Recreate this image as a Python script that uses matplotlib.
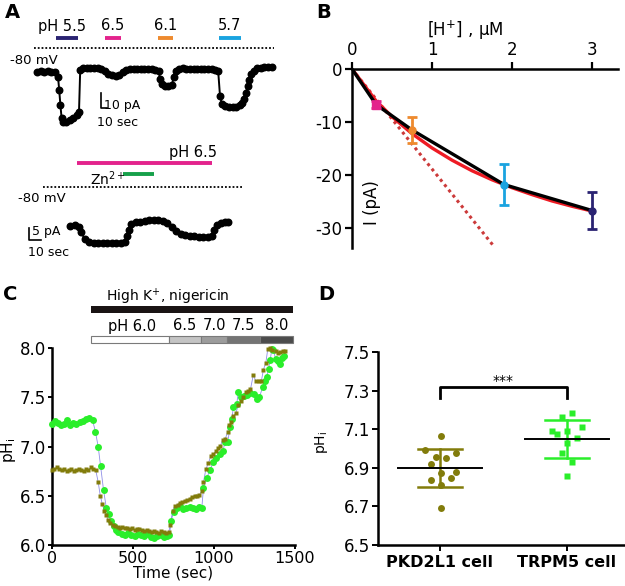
import matplotlib

matplotlib.use("Agg")

import matplotlib.pyplot as plt  # noqa: E402
from matplotlib.patches import Rectangle  # noqa: E402
from matplotlib.transforms import blended_transform_factory  # noqa: E402

plt.rcParams["font.family"] = ["DejaVu Sans"]
plt.rcParams["axes.unicode_minus"] = False
plt.rcParams["mathtext.default"] = "regular"

W, H = 625, 586

# ---- panel A: current traces, (time s, current pA) ----
trace_ph = [
    (0, -1.7), (6, -1.5), (12, -1.8), (18, -1.6), (24, -1.7), (30, -2.3), (35, -5.1), (37, -14),
    (39, -24), (41, -32.7), (44, -35.1), (49, -35.1), (55, -34), (60, -32.9), (66, -30.7), (70, -28.5),
    (72, -0.7), (77, 0.8), (83, 0.7), (89, 0.9), (95, 0.6), (101, 0.5), (107, 0.2), (113, -1.5),
    (119, -3.2), (125, -4.3), (131, -4.6), (137, -3.8), (143, -2.2), (149, -0.9), (155, -0.3), (161, 0.2),
    (167, 0), (173, 0.2), (179, 0), (185, -0.2), (191, -0.3), (197, -0.5), (203, -1.5), (205, -6.5),
    (208, -10.2), (213, -11.3), (219, -11.0), (225, -10.4), (228, -5), (231, -1), (237, 0.2), (243, 0.4),
    (249, 0.2), (255, 0.3), (261, 0), (267, 0.1), (273, -0.1), (279, 0), (285, -0.2), (291, -0.3),
    (297, -0.5), (302, -1.5), (305, -18), (308, -23), (314, -24.8), (320, -25.3), (326, -25.4), (332, -25),
    (338, -24.2), (342, -22.5), (345, -20), (348, -16), (351, -11.5), (354, -7), (357, -3.5), (361, -1.2),
    (367, 0.5), (373, 1), (379, 1.2), (385, 1.1), (391, 1.1),
]
# pH pulses on the top trace: (start s, end s, label, colour)
ph_pulses = [(32, 68, "5.5", "#2a2372"), (113, 140, "6.5", "#e3238c"),
             (202, 227, "6.1", "#ee8a2e"), (303, 340, "5.7", "#1aa3e0")]

trace_zn = [
    (0, 0), (4, 0.3), (8, -0.3), (10, -2.5), (13, -5.5), (17, -6.7), (21, -7.1), (25, -7.2), (29, -7.2),
    (33, -7.1), (37, -7.0), (41, -6.9), (45, -6.9), (49, -6.7), (50.5, -4), (52, -1.5), (54, 1.0),
    (58, 1.6), (62, 1.8), (66, 2.1), (70, 2.3), (74, 2.5), (78, 2.4), (82, 2.2), (86, 1.2), (90, -0.3),
    (94, -2.2), (98, -3.4), (102, -3.9), (106, -4.1), (110, -4.3), (114, -4.4), (118, -4.5), (122, -4.5),
    (125.5, -4.3), (127, -1.7), (130, 0.4), (134, 1.2), (137, 1.5), (140, 1.8),
]
ph65_span = (6, 126)
zn_span = (47, 74)

# ---- panel B: dose response ----
h_conc = [0.30, 0.75, 1.90, 3.00]
i_mean = [-6.7, -11.5, -21.8, -26.7]
i_err = [0.6, 2.4, 3.85, 3.4]
pt_colors = ["#e3238c", "#ee8a2e", "#1aa3e0", "#2a2372"]
pt_markers = ["s", "o", "o", "o"]
fit_x = [0, 0.15, 0.3, 0.5, 0.75, 1.0, 1.25, 1.5, 1.75, 2.0, 2.25, 2.5, 2.75, 3.0]
fit_y = [0, -3.0, -6.0, -9.0, -12.2, -14.9, -17.2, -19.2, -20.9, -22.4, -23.7, -24.9, -25.9, -26.8]
lin_x = [0, 1.76]
lin_y = [0, -33.2]

# ---- panel C: pHi calibration ----
pkd_trace = [
    (0, 6.76), (15, 6.77), (30, 6.79), (45, 6.77), (60, 6.76), (75, 6.77), (90, 6.75), (105, 6.76),
    (120, 6.77), (135, 6.75), (150, 6.76), (165, 6.77), (180, 6.76), (195, 6.75), (210, 6.77), (225, 6.76),
    (240, 6.79), (255, 6.77), (270, 6.76), (285, 6.64), (298, 6.5), (310, 6.42), (322, 6.35), (335, 6.3),
    (348, 6.25), (360, 6.22), (375, 6.2), (390, 6.19), (405, 6.18), (420, 6.17), (435, 6.18), (450, 6.17),
    (465, 6.17), (480, 6.16), (495, 6.17), (510, 6.15), (525, 6.16), (540, 6.16), (555, 6.15), (570, 6.14),
    (585, 6.15), (600, 6.14), (615, 6.13), (630, 6.14), (645, 6.13), (660, 6.12), (675, 6.14), (690, 6.13),
    (705, 6.12), (720, 6.13), (730, 6.2), (745, 6.35), (760, 6.4), (775, 6.41), (790, 6.43), (805, 6.44),
    (820, 6.45), (835, 6.46), (850, 6.47), (865, 6.49), (880, 6.5), (895, 6.5), (910, 6.51), (925, 6.55),
    (935, 6.64), (950, 6.77), (965, 6.83), (980, 6.9), (995, 6.92), (1010, 6.95), (1025, 6.98), (1040, 7.01),
    (1055, 7.07), (1070, 7.08), (1085, 7.15), (1095, 7.22), (1108, 7.25), (1120, 7.31), (1135, 7.34),
    (1150, 7.42), (1165, 7.46), (1180, 7.5), (1195, 7.55), (1210, 7.56), (1225, 7.58), (1243, 7.73),
    (1258, 7.66), (1275, 7.66), (1292, 7.66), (1305, 7.78), (1320, 7.85), (1332, 7.99), (1345, 8.0),
    (1360, 7.98), (1380, 7.97), (1395, 7.95), (1410, 7.96), (1425, 7.97), (1440, 7.97),
]
trpm_trace = [
    (0, 7.23), (20, 7.26), (40, 7.24), (55, 7.22), (75, 7.23), (95, 7.27), (110, 7.22), (130, 7.24),
    (150, 7.23), (170, 7.25), (190, 7.26), (210, 7.28), (230, 7.29), (250, 7.27), (268, 7.15), (285, 7.0),
    (300, 6.8), (318, 6.56), (335, 6.38), (350, 6.31), (365, 6.24), (380, 6.19), (395, 6.15), (410, 6.13),
    (430, 6.11), (450, 6.1), (470, 6.12), (490, 6.1), (510, 6.09), (530, 6.11), (550, 6.1), (570, 6.09),
    (590, 6.11), (610, 6.08), (630, 6.07), (650, 6.09), (670, 6.1), (690, 6.08), (710, 6.09), (725, 6.1),
    (735, 6.24), (750, 6.34), (770, 6.38), (790, 6.4), (810, 6.37), (830, 6.38), (850, 6.39), (870, 6.38),
    (890, 6.37), (910, 6.39), (925, 6.38), (935, 6.58), (955, 6.68), (975, 6.76), (995, 6.84), (1015, 6.88),
    (1035, 6.92), (1055, 6.95), (1068, 7.05), (1085, 7.05), (1100, 7.2), (1110, 7.28), (1120, 7.4),
    (1140, 7.43), (1150, 7.55), (1165, 7.5), (1185, 7.51), (1205, 7.52), (1225, 7.54), (1245, 7.53),
    (1265, 7.48), (1280, 7.5), (1300, 7.6), (1315, 7.66), (1325, 7.71), (1337, 7.79), (1347, 7.88),
    (1357, 7.99), (1367, 7.98), (1380, 7.89), (1392, 7.87), (1405, 7.84), (1418, 7.9), (1430, 7.92),
]
buffer_edges = [240, 722, 920, 1080, 1284, 1488]
buffer_labels = ["pH 6.0", "6.5", "7.0", "7.5", "8.0"]
buffer_shades = ["#ffffff", "#c4c4c4", "#9c9c9c", "#747474", "#4c4c4c"]

# ---- panel D: resting pHi ----
groups = ["PKD2L1 cell", "TRPM5 cell"]
pkd_jitter = [0.005, -0.118, -0.034, 0.045, 0.124, -0.073, 0.005, 0.124, -0.073, 0.084, 0.005, 0.005]
pkd_ph = [7.066, 6.992, 6.954, 6.949, 6.978, 6.920, 6.875, 6.880, 6.837, 6.846, 6.811, 6.690]
trpm_jitter = [0.037, -0.042, 0.121, -0.121, -0.003, -0.081, 0.081, -0.003, -0.042, 0.037, -0.003]
trpm_ph = [7.185, 7.165, 7.113, 7.092, 7.092, 7.075, 7.056, 7.027, 6.978, 6.928, 6.859]
group_mean = [6.90, 7.05]
group_sd = [0.10, 0.10]

OLIVE = "#827c0b"
LIME = "#2aee2a"

fig = plt.figure(figsize=(W / 100, H / 100), dpi=100)


def px_axes(x0, y0, x1, y1):
    """Axes placed by pixel box (y measured from the top)."""
    return fig.add_axes([x0 / W, 1 - y1 / H, (x1 - x0) / W, (y1 - y0) / H])


def bare(ax):
    ax.set_axis_off()
    ax.patch.set_alpha(0)


# overlay in pixel coordinates for labels
ov = fig.add_axes([0, 0, 1, 1])
ov.set_xlim(0, W)
ov.set_ylim(H, 0)
bare(ov)

for letter, x, y in [("A", 12, 12), ("B", 324, 13), ("C", 10, 295), ("D", 326, 295)]:
    ov.text(x, y, letter, fontsize=14, fontweight="bold", ha="center", va="center")

# ---- A top ----
a1 = px_axes(37, 60, 273, 130)
a1.set_xlim(0, 236 / 0.6)
a1.set_ylim(-(130 - 69) / 1.5, (69 - 60) / 1.5)
bare(a1)
t1, c1 = zip(*trace_ph)
a1.plot(t1, c1, "-o", color="black", lw=1.4, ms=4.7, clip_on=False)
a1.plot([106, 106, 116], [-16.2, -26.2, -26.2], color="black", lw=1.2, clip_on=False)
ov.text(104, 106, "10 pA", fontsize=9, va="center")
ov.text(97, 123, "10 sec", fontsize=9, va="center")
bt1 = blended_transform_factory(a1.transData, ov.transData)
for t0, t_end, lab, col in ph_pulses:
    ov.plot([t0, t_end], [38, 38], color=col, lw=2.8, solid_capstyle="butt", transform=bt1)
    if lab == "5.5":
        ov.text(38, 26, "pH " + lab, fontsize=10.5, va="center")
    else:
        ov.text((t0 + t_end) / 2, 26, lab, fontsize=10.5, va="center", ha="center", transform=bt1)
ov.plot([34, 274], [48, 48], color="black", lw=1.3, dashes=(1, 1.1))
ov.text(10, 61, "-80 mV", fontsize=9.5, va="center")

# ---- A bottom ----
a2 = px_axes(20, 210, 240, 255)
a2.set_xlim((20 - 70) / 1.13, (240 - 70) / 1.13)
a2.set_ylim(-(255 - 226) / 2.4, (226 - 210) / 2.4)
bare(a2)
t2, c2 = zip(*trace_zn)
a2.plot(t2, c2, "-o", color="black", lw=1.4, ms=4.7, clip_on=False)
a2.plot([-36, -36, -26], [-0.83, -5.83, -5.83], color="black", lw=1.2, clip_on=False)
ov.text(32, 232, "5 pA", fontsize=9, va="center")
ov.text(28, 252, "10 sec", fontsize=9, va="center")
bt2 = blended_transform_factory(a2.transData, ov.transData)
ov.plot(ph65_span, [163, 163], color="#e3238c", lw=2.8, solid_capstyle="butt", transform=bt2)
ov.plot(zn_span, [174, 174], color="#16a04a", lw=2.8, solid_capstyle="butt", transform=bt2)
ov.text(217, 152, "pH 6.5", fontsize=10.5, va="center", ha="right")
ov.text(90, 179, "Zn$^{2+}$", fontsize=10, va="center")
ov.plot([43, 242], [187, 187], color="black", lw=1.3, dashes=(1, 1.1))
ov.text(18, 199, "-80 mV", fontsize=9.5, va="center")

# ---- B ----
axB = px_axes(352, 69, 618, 248)
axB.set_xlim(0, 266 / 80)
axB.set_ylim(-179 / 5.3, 0)
axB.patch.set_alpha(0)
for s in ["right", "bottom"]:
    axB.spines[s].set_visible(False)
for s in ["top", "left"]:
    axB.spines[s].set_linewidth(1.8)
axB.xaxis.tick_top()
axB.set_xticks([0, 1, 2, 3])
axB.set_yticks([0, -10, -20, -30])
axB.tick_params(axis="both", direction="out", length=5, width=1.6, labelsize=12, pad=2)
axB.plot(lin_x, lin_y, color="#cc3a3a", lw=2.2, dashes=(1, 1.2))
axB.plot(fit_x, fit_y, color="#ee1b24", lw=2.4)
axB.plot([0] + h_conc, [0] + i_mean, color="black", lw=2.4)
for x, y, e, col, m in zip(h_conc, i_mean, i_err, pt_colors, pt_markers):
    axB.errorbar(x, y, yerr=e, fmt=m, color=col, ms=5.5 if m == "s" else 5, capsize=3.5,
                 elinewidth=2, capthick=2, clip_on=False, zorder=5)
ov.text(465, 30, "[H$^{+}$] , \u00b5M", fontsize=12, ha="center", va="center")
ov.text(372, 203, "I (pA)", fontsize=12, ha="center", va="center", rotation=90)

# ---- C ----
axC = px_axes(52, 348, 295, 545)
axC.set_xlim(0, 1500)
axC.set_ylim(6, 8)
axC.patch.set_alpha(0)
for s in ["right", "top"]:
    axC.spines[s].set_visible(False)
for s in ["bottom", "left"]:
    axC.spines[s].set_linewidth(1.8)
axC.set_xticks([0, 500, 1000, 1500])
axC.set_yticks([6.0, 6.5, 7.0, 7.5, 8.0])
axC.set_yticklabels(["6.0", "6.5", "7.0", "7.5", "8.0"])
axC.tick_params(axis="both", direction="out", length=3, width=1.4, labelsize=12, pad=1.5)
axC.tick_params(axis="x", labelsize=11.5, pad=1)
tp, pp = zip(*pkd_trace)
tt, pt = zip(*trpm_trace)
axC.plot(tp, pp, color="#8e8ee6", lw=0.6, zorder=2)
axC.plot(tt, pt, color="#8e8ee6", lw=0.6, zorder=2)
axC.plot(tt, pt, "o", color=LIME, ms=5, mec="none", zorder=3, clip_on=False)
axC.plot(tp, pp, "s", color=OLIVE, ms=2.6, mec="none", zorder=4, clip_on=False)
ov.text(173, 573, "Time (sec)", fontsize=11, ha="center", va="center")
ov.text(8, 450, "pH$_{i}$", fontsize=11, ha="center", va="center", rotation=90)
btC = blended_transform_factory(axC.transData, ov.transData)
ov.add_patch(Rectangle((buffer_edges[0], 306), buffer_edges[-1] - buffer_edges[0], 7,
                       facecolor="#1a1414", edgecolor="none", transform=btC))
ov.text(168, 297, "High K$^{+}$, nigericin", fontsize=10, ha="center", va="center")
for i, (lab, shade) in enumerate(zip(buffer_labels, buffer_shades)):
    x0, x1 = buffer_edges[i], buffer_edges[i + 1]
    ov.add_patch(Rectangle((x0, 336), x1 - x0, 7, facecolor=shade, edgecolor="#7a7a7a",
                           lw=0.8, transform=btC))
    if i == 0:
        ov.text(108, 326, lab, fontsize=10.5, va="center")
    else:
        ov.text((x0 + x1) / 2, 326, lab, fontsize=10.5, ha="center", va="center", transform=btC)

# ---- D ----
axD = px_axes(378, 352, 624, 545)
axD.set_xlim(-62 / 127, 184 / 127)
axD.set_ylim(6.5, 7.5)
axD.patch.set_alpha(0)
for s in ["right", "top"]:
    axD.spines[s].set_visible(False)
for s in ["bottom", "left"]:
    axD.spines[s].set_linewidth(1.8)
axD.set_xticks([0, 1])
axD.set_xticklabels(groups, fontweight="bold", fontsize=11.5)
axD.set_yticks([6.5, 6.7, 6.9, 7.1, 7.3, 7.5])
axD.set_yticklabels(["6.5", "6.7", "6.9", "7.1", "7.3", "7.5"])
axD.tick_params(axis="both", direction="out", length=4, width=1.4, labelsize=12, pad=1.5)
axD.tick_params(axis="x", labelsize=11.5, pad=3)
axD.plot(pkd_jitter, pkd_ph, "o", color=OLIVE, ms=5, mec="none", zorder=3)
axD.plot([1 + j for j in trpm_jitter], trpm_ph, "s", color=LIME, ms=4.6, mec="none", zorder=3)
for gx, m, sd, col in zip([0, 1], group_mean, group_sd, [OLIVE, LIME]):
    axD.plot([gx, gx], [m - sd, m + sd], color=col, lw=1.8, zorder=2)
    for yy in (m - sd, m + sd):
        axD.plot([gx - 0.17, gx + 0.17], [yy, yy], color=col, lw=1.8, zorder=2)
    axD.plot([gx - 0.33, gx + 0.33], [m, m], color="black", lw=1.4, zorder=4)
axD.plot([0, 0, 1, 1], [7.26, 7.32, 7.32, 7.26], color="black", lw=2)
axD.text(0.5, 7.35, "***", fontsize=10, ha="center", va="center")
ov.text(322, 442, "pH$_{i}$", fontsize=10, ha="center", va="center", rotation=90)

fig.savefig("out.png", dpi=100)
